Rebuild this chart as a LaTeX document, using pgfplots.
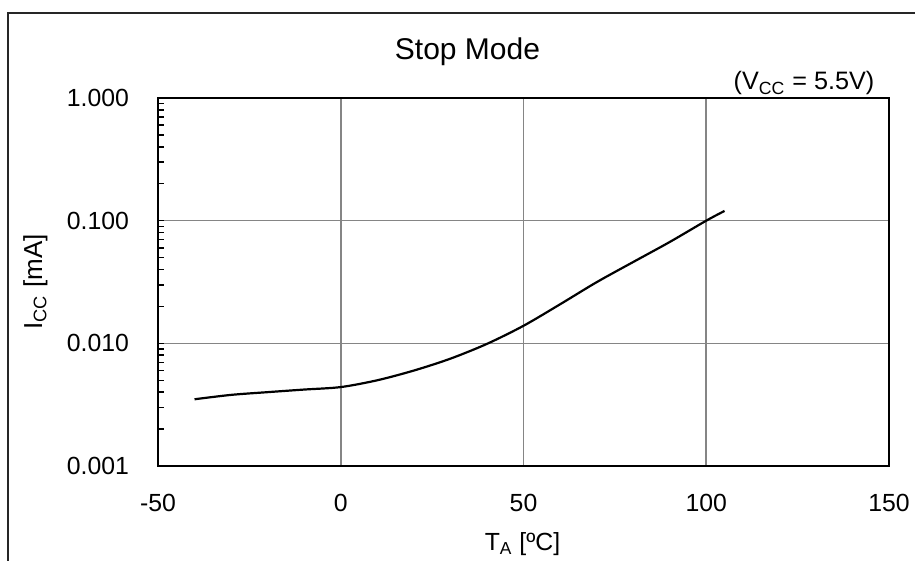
\documentclass[border=0pt]{standalone}
\usepackage{fontspec}
\setmainfont{Liberation Sans}
\usepackage{pgfplots}
\pgfplotsset{compat=1.18}
\begin{document}
\begin{tikzpicture}[x=1pt,y=1pt]
\useasboundingbox (0,0) rectangle (457.5,280.5);
\draw[line width=0.75pt, black!85] (4,0) -- (4,274) -- (457.5,274);
\begin{axis}[
  at={(79pt,47.5pt)}, anchor=south west,
  width=365.5pt, height=184pt, scale only axis,
  xmin=-50, xmax=150, ymode=log, ymin=0.001, ymax=1,
  xtick={-50,0,50,100,150}, xticklabels={-50,0,50,100,150},
  ytick={0.001,0.01,0.1,1}, yticklabels={0.001,0.010,0.100,1.000},
  /pgf/number format/assume math mode=true,
  ticklabel style={font=\fontsize{12.4}{14}\selectfont},
  yticklabel style={xshift=-11pt},
  xticklabel style={yshift=-10.5pt},
  xtick style={draw=none},
  ytick pos=left,
  ytick style={black, line width=0.75pt},
  minor y tick style={black, line width=0.75pt},
  major tick length=3pt, minor tick length=3pt,
  xmajorgrids=true, ymajorgrids=true,
  major grid style={color=black!48, line width=0.8pt},
  axis line style={line width=1pt, black},
]
\addplot[black, line width=1.1pt, smooth] coordinates {
(-40,0.0035) (-30,0.0038) (-20,0.0040) (-10,0.0042) (0,0.0044)
(10,0.0050) (20,0.0060) (30,0.0075) (40,0.0099) (50,0.0139)
(60,0.0208) (70,0.0315) (80,0.0460) (90,0.0670) (100,0.100) (105,0.120)
};
\end{axis}
\node[anchor=base, inner sep=0pt] at (233.75,250.5) {\fontsize{15}{18}\selectfont Stop Mode};
\node[anchor=base, inner sep=0pt] at (402,235.5) {\fontsize{12.6}{14}\selectfont (V\textsubscript{CC} = 5.5V)};
\node[anchor=base, inner sep=0pt] at (261.25,5) {\fontsize{12.4}{14}\selectfont T\textsubscript{A} [ºC]};
\node[anchor=base, inner sep=0pt, rotate=90] at (21,139.5) {\fontsize{13}{15}\selectfont I\textsubscript{CC} [mA]};
\end{tikzpicture}
\end{document}
